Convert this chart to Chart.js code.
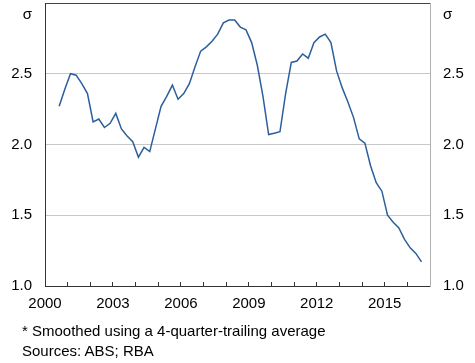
<!DOCTYPE html>
<html>
<head>
<meta charset="utf-8">
<script src="https://cdn.jsdelivr.net/npm/chart.js@4"></script>
<style>
    html, body { margin: 0; padding: 0; background: #fff; }
    #wrap { position: relative; width: 475px; height: 363px; }
    #notes {
        position: absolute; left: 22px; top: 321px;
        font: 15px "Liberation Sans", Arial, sans-serif; color: #000; line-height: 20px;
    }
</style>
</head>
<body>
<div id="wrap">
    <canvas id="dispersionChart" width="475" height="363"></canvas>
    <div id="notes">* Smoothed using a 4-quarter-trailing average<br>Sources: ABS; RBA</div>
</div>
<script>
// Quarterly series, first observation is the September quarter 2000
const firstYear = 2000;
const firstQuarter = 3;

const dispersion = [
    2.27, 2.39, 2.50, 2.49, 2.43, 2.36, 2.16, 2.18, 2.12, 2.15,
    2.22, 2.11, 2.06, 2.02, 1.91, 1.98, 1.95, 2.11, 2.27, 2.34,
    2.42, 2.32, 2.36, 2.43, 2.55, 2.66, 2.69, 2.73, 2.78, 2.86,
    2.88, 2.88, 2.83, 2.81, 2.72, 2.56, 2.34, 2.07, 2.08, 2.09,
    2.36, 2.58, 2.59, 2.64, 2.61, 2.72, 2.76, 2.78, 2.72, 2.52,
    2.40, 2.30, 2.19, 2.04, 2.01, 1.85, 1.73, 1.67, 1.50, 1.45,
    1.41, 1.33, 1.27, 1.23, 1.17
];

const yearLabels = [2000, 2003, 2006, 2009, 2012, 2015];
const yTicks = [1.0, 1.5, 2.0, 2.5];
const unitLabel = 'σ';

// Place each quarter at the middle of its quarter on a year scale
const points = dispersion.map((v, i) => {
    const q = firstQuarter - 1 + i;
    const x = firstYear + Math.floor(q / 4) + (q % 4) / 4 + 0.125;
    return { x: x, y: v };
});

const fontFamily = '"Liberation Sans", Arial, sans-serif';
const font = { family: fontFamily, size: 15 };

function yTickLabel(value) {
    return yTicks.includes(value) ? value.toFixed(1) : '';
}

// Fixed axis sizes so the plot area lines up with the original
function fitY(scale) {
    scale.width = 45;
    scale.paddingTop = 0;
    scale.paddingBottom = 0;
}

function fitX(scale) {
    scale.height = 77;
    scale.paddingLeft = 0;
    scale.paddingRight = 0;
}

// Unit label just under the top of each y axis
const unitLabelPlugin = {
    id: 'unitLabel',
    afterDraw(chart) {
        const ctx = chart.ctx;
        const top = chart.chartArea.top + 12;
        ctx.save();
        ctx.font = '15px ' + fontFamily;
        ctx.fillStyle = '#000';
        ctx.textBaseline = 'middle';
        ctx.textAlign = 'right';
        ctx.fillText(unitLabel, chart.scales.y.right - 13, top);
        ctx.textAlign = 'left';
        ctx.fillText(unitLabel, chart.scales.y2.left + 13, top);
        ctx.restore();
    }
};

new Chart(document.getElementById('dispersionChart'), {
    type: 'line',
    data: {
        datasets: [{
            data: points,
            borderColor: '#2b5f9c',
            borderWidth: 1.5,
            pointRadius: 0,
            tension: 0,
            fill: false
        }]
    },
    options: {
        responsive: false,
        animation: false,
        layout: { autoPadding: false, padding: { top: 3, left: 0, right: 0, bottom: 0 } },
        plugins: { legend: { display: false }, tooltip: { enabled: false } },
        scales: {
            x: {
                type: 'linear',
                min: 2000,
                max: 2017,
                afterFit: fitX,
                ticks: {
                    stepSize: 1,
                    autoSkip: false,
                    maxRotation: 0,
                    padding: 13,
                    color: '#000',
                    font: font,
                    callback: (v) => yearLabels.includes(v) ? String(v) : ''
                },
                grid: {
                    drawOnChartArea: false,
                    drawTicks: true,
                    tickLength: -4,
                    color: '#333'
                },
                border: { color: '#333', width: 1 }
            },
            y: {
                position: 'left',
                min: 1,
                max: 3,
                afterFit: fitY,
                ticks: {
                    stepSize: 0.5,
                    padding: 13,
                    color: '#000',
                    font: font,
                    callback: yTickLabel
                },
                grid: {
                    drawTicks: false,
                    tickLength: 0,
                    color: (ctx) => {
                        const v = ctx.tick && ctx.tick.value;
                        if (v === 3) return '#444';
                        if (v === 1) return 'rgba(0,0,0,0)';
                        return '#c8c8c8';
                    }
                },
                border: { color: '#333', width: 1 }
            },
            y2: {
                position: 'right',
                min: 1,
                max: 3,
                afterFit: fitY,
                ticks: {
                    stepSize: 0.5,
                    padding: 13,
                    color: '#000',
                    font: font,
                    callback: yTickLabel
                },
                grid: { display: false, drawTicks: false, tickLength: 0 },
                border: { color: '#b0b0b0', width: 1 }
            }
        }
    },
    plugins: [unitLabelPlugin]
});
</script>
</body>
</html>
